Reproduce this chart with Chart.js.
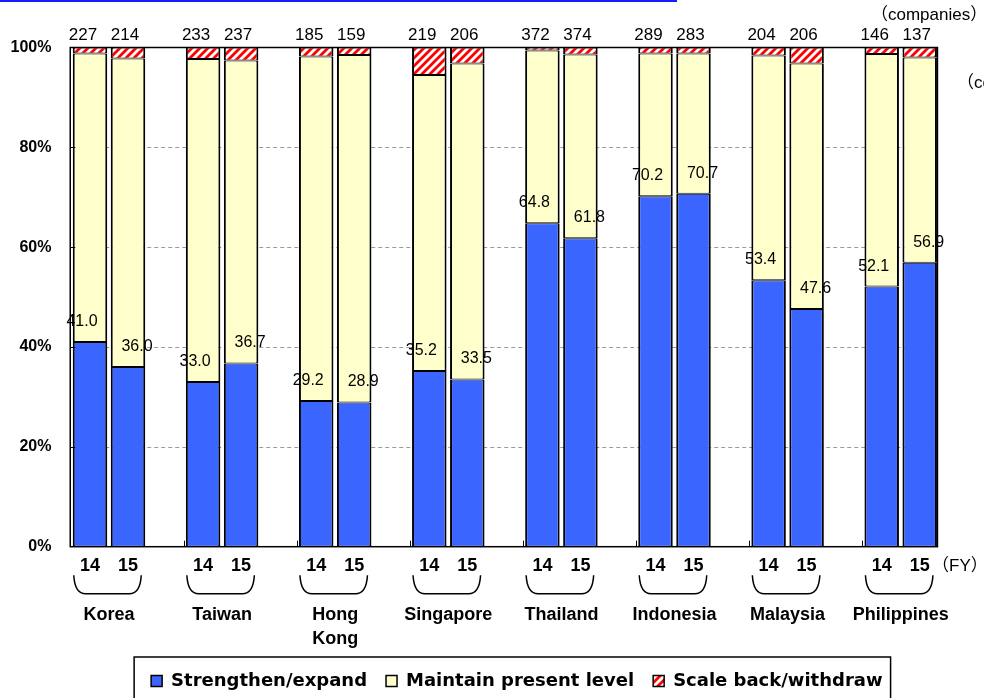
<!DOCTYPE html>
<html>
<head>
<meta charset="utf-8">
<script src="https://cdn.jsdelivr.net/npm/chart.js@4.4.1/dist/chart.umd.min.js"></script>
<style>
  html, body { margin: 0; padding: 0; background: #fff; }
  #wrap { width: 984px; height: 698px; position: relative; }
</style>
</head>
<body>
<div id="wrap"><canvas id="c" width="984" height="698"></canvas></div>
<script>
// Survey: future business direction by country, FY14 vs FY15 (share of respondents, %)
const categories = ['Korea', 'Taiwan', 'Hong Kong', 'Singapore', 'Thailand', 'Indonesia', 'Malaysia', 'Philippines'];
const fiscalYears = ['14', '15'];
const seriesNames = ['Strengthen/expand', 'Maintain present level', 'Scale back/withdraw'];

const respondents14 = [227, 233, 185, 219, 372, 289, 204, 146];
const respondents15 = [214, 237, 159, 206, 374, 283, 206, 137];

const strengthen14 = [41.0, 33.0, 29.2, 35.2, 64.8, 70.2, 53.4, 52.1];
const maintain14   = [57.8, 64.7, 69.0, 59.3, 34.6, 28.6, 45.0, 46.6];
const scaleBack14  = [1.2, 2.3, 1.8, 5.5, 0.6, 1.2, 1.6, 1.3];

const strengthen15 = [36.0, 36.7, 28.9, 33.5, 61.8, 70.7, 47.6, 56.9];
const maintain15   = [61.8, 60.7, 69.6, 63.3, 36.8, 28.1, 49.2, 41.1];
const scaleBack15  = [2.2, 2.6, 1.5, 3.2, 1.4, 1.2, 3.2, 2.0];

const yTicksStep = 20;

// Colours
const BLUE = '#3a66ff';
const CREAM = '#ffffcc';

function stripePattern() {
  const s = 8;
  const c = document.createElement('canvas');
  c.width = s; c.height = s;
  const g = c.getContext('2d');
  g.fillStyle = '#ffffff';
  g.fillRect(0, 0, s, s);
  g.strokeStyle = '#ff0000';
  g.lineWidth = 2.8;
  g.beginPath();
  for (const k of [-s, 0, s]) {
    g.moveTo(k - 1, s + 1);
    g.lineTo(k + s + 1, -1);
  }
  g.stroke();
  return g.createPattern(c, 'repeat');
}
const HATCH = stripePattern();

const segBorder = { top: 1, bottom: 1, left: 2, right: 2 };
function ds(label, data, color, stack) {
  return {
    label, data, stack,
    backgroundColor: color,
    borderColor: '#000',
    borderWidth: segBorder,
    borderSkipped: false,
    categoryPercentage: 0.672,
    barPercentage: 0.908
  };
}

const datasets = [
  ds(seriesNames[0], strengthen14, BLUE, 'FY' + fiscalYears[0]),
  ds(seriesNames[1], maintain14, CREAM, 'FY' + fiscalYears[0]),
  ds(seriesNames[2], scaleBack14, HATCH, 'FY' + fiscalYears[0]),
  ds(seriesNames[0], strengthen15, BLUE, 'FY' + fiscalYears[1]),
  ds(seriesNames[1], maintain15, CREAM, 'FY' + fiscalYears[1]),
  ds(seriesNames[2], scaleBack15, HATCH, 'FY' + fiscalYears[1])
];

const FONT = '"Liberation Sans", Arial, sans-serif';
const NOTE_FONT = '17px "Liberation Sans", "Noto Sans CJK JP", sans-serif';

// Plot frame follows the outer bars
function frameOf(chart) {
  const first = chart.getDatasetMeta(0).data[0];
  const last = chart.getDatasetMeta(3).data[categories.length - 1];
  return {
    left: first.x - first.width / 2 - 2.5,
    right: last.x + last.width / 2 + 0.5,
    top: chart.chartArea.top,
    bottom: chart.chartArea.bottom
  };
}

const decor = {
  id: 'decor',
  afterLayout(chart) {
    const lg = chart.legend;
    if (!lg) return;
    lg.left += 12; lg.right += 12;
    lg.top += 2; lg.bottom += 2;
  },
  beforeDatasetsDraw(chart) {
    const { ctx, scales: { y } } = chart;
    const f = frameOf(chart);
    ctx.save();
    ctx.fillStyle = '#1a1aff';
    ctx.fillRect(0, 0, 677, 2);
    ctx.strokeStyle = '#9a9a9a';
    ctx.lineWidth = 1;
    ctx.setLineDash([4, 3]);
    y.ticks.forEach(t => {
      if (t.value > y.min && t.value < y.max) {
        const py = Math.round(y.getPixelForValue(t.value)) + 0.5;
        ctx.beginPath();
        ctx.moveTo(f.left, py);
        ctx.lineTo(f.right, py);
        ctx.stroke();
      }
    });
    ctx.restore();
  },
  afterDatasetsDraw(chart) {
    const { ctx, scales: { y } } = chart;
    const f = frameOf(chart);
    const m14 = chart.getDatasetMeta(0).data;
    const m15 = chart.getDatasetMeta(3).data;
    ctx.save();

    // frame
    ctx.strokeStyle = '#000';
    ctx.lineWidth = 1.5;
    ctx.strokeRect(f.left, f.top, f.right - f.left, f.bottom - f.top);

    // inner tick marks on the value axis
    ctx.lineWidth = 1;
    y.ticks.forEach(t => {
      if (t.value > y.min && t.value < y.max) {
        const py = Math.round(y.getPixelForValue(t.value)) + 0.5;
        ctx.beginPath();
        ctx.moveTo(f.left, py);
        ctx.lineTo(f.left + 5, py);
        ctx.stroke();
      }
    });
    // small marks between country groups
    for (let i = 1; i < categories.length; i++) {
      const b = m14[i];
      const px = Math.round(b.x - b.width / 2 - 2) + 0.5;
      ctx.beginPath();
      ctx.moveTo(px, f.bottom);
      ctx.lineTo(px, f.bottom - 6);
      ctx.stroke();
    }

    ctx.fillStyle = '#000';
    ctx.textAlign = 'center';
    ctx.textBaseline = 'middle';

    for (let i = 0; i < categories.length; i++) {
      const b14 = m14[i], b15 = m15[i];

      // fiscal year under each bar
      ctx.font = 'bold 18px ' + FONT;
      ctx.fillText(fiscalYears[0], b14.x, f.bottom + 19.5);
      ctx.fillText(fiscalYears[1], b15.x, f.bottom + 19.5);

      // brace under each pair
      const L = b14.x - b14.width / 2 + 1;
      const R = b15.x + b15.width / 2 - 4;
      const yT = f.bottom + 28.5, yB = f.bottom + 47;
      ctx.lineWidth = 1.5;
      ctx.beginPath();
      ctx.moveTo(L, yT);
      ctx.quadraticCurveTo(L + 1, yB, L + 12, yB);
      ctx.lineTo(R - 12, yB);
      ctx.quadraticCurveTo(R - 1, yB, R, yT);
      ctx.stroke();

      // share of "strengthen/expand"
      ctx.font = '16px ' + FONT;
      ctx.fillText(strengthen14[i].toFixed(1), b14.x - 8, b14.y - 20.5);
      ctx.fillText(strengthen15[i].toFixed(1), b15.x + 9, b15.y - 20.5);

      // number of responding companies
      ctx.font = '17px ' + FONT;
      ctx.fillText(String(respondents14[i]), b14.x - 7, f.top - 12);
      ctx.fillText(String(respondents15[i]), b15.x - 3, f.top - 12);
    }

    // unit notes
    ctx.textAlign = 'left';
    ctx.font = NOTE_FONT;
    ctx.fillText('（companies）', 871, 15);
    ctx.fillText('（companies）', 957, 83);
    ctx.fillText('（FY）', 932, f.bottom + 19.5);
    ctx.restore();
  },
  afterDraw(chart) {
    const lg = chart.legend;
    if (!lg || !lg.legendHitBoxes || !lg.legendHitBoxes.length) return;
    const hb = lg.legendHitBoxes;
    const last = hb[hb.length - 1];
    const L = hb[0].left - 17;
    const R = last.left + last.width + 8;
    const T = lg.top + 4;
    const { ctx } = chart;
    ctx.save();
    ctx.strokeStyle = '#000';
    ctx.lineWidth = 1.5;
    ctx.strokeRect(L, T, R - L, 80);
    ctx.restore();
  }
};

new Chart(document.getElementById('c'), {
  type: 'bar',
  data: { labels: categories, datasets },
  options: {
    responsive: false,
    animation: false,
    devicePixelRatio: 1,
    layout: { padding: { top: 47.5, right: 26.75, bottom: 0, left: 0 } },
    plugins: {
      tooltip: { enabled: false },
      legend: {
        position: 'bottom',
        fullSize: false,
        align: 'center',
        labels: {
          boxWidth: 11,
          boxHeight: 11,
          padding: 19,
          color: '#000',
          font: { family: '"DejaVu Sans", sans-serif', weight: 'bold', size: 18 },
          filter: item => item.datasetIndex < 3
        }
      }
    },
    scales: {
      x: {
        stacked: true,
        grid: { display: false },
        border: { display: false },
        ticks: {
          autoSkip: false,
          maxRotation: 0,
          padding: 48,
          color: '#000',
          font: { family: FONT, weight: 'bold', size: 18, lineHeight: 1.333 },
          callback(v) {
            const s = this.getLabelForValue(v);
            return s.includes(' ') ? s.split(' ') : s;
          }
        },
        afterFit(s) {
          // the tick padding only pushes the country names down
          s.height = 104.3;
          s.paddingLeft = 0;
          s.paddingRight = 0;
        }
      },
      y: {
        stacked: true,
        min: 0,
        max: 100,
        grid: { display: false },
        border: { display: false },
        ticks: {
          stepSize: yTicksStep,
          padding: -7,
          color: '#000',
          font: { family: FONT, weight: 'bold', size: 16 },
          callback: v => v + '%'
        },
        afterFit(s) { s.width = 52.45; }
      }
    }
  },
  plugins: [decor]
});
</script>
</body>
</html>
